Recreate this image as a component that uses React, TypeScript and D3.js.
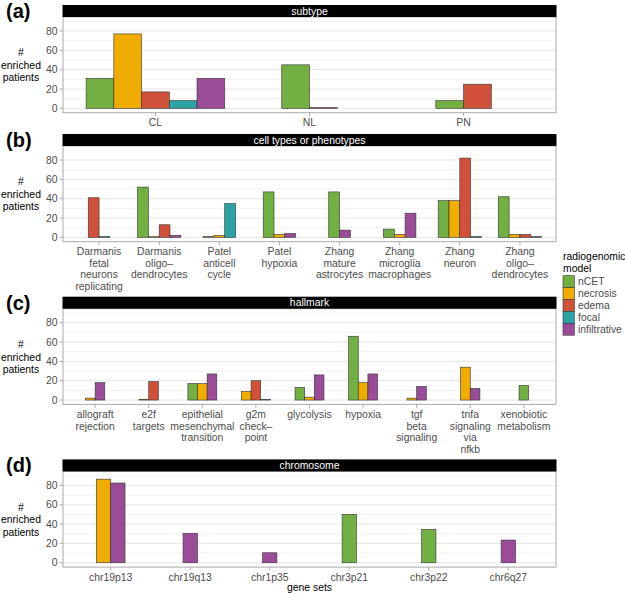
import React from "react";
import * as d3 from "d3";

const models = ["nCET", "necrosis", "edema", "focal", "infiltrative"];
const modelColors = ["#72B043", "#F0AD00", "#D1503A", "#2BA3A5", "#9A4C98"];

const subtypeCats = ["CL", "NL", "PN"];
const subtypeNCET = [31, 45, 8];
const subtypeNecrosis = [77, null, null];
const subtypeEdema = [17, 0.8, 25];
const subtypeFocal = [8, null, null];
const subtypeInfiltrative = [31, null, null];

const cellCats = [
  "Darmanis\nfetal\nneurons\nreplicating",
  "Darmanis\noligo–\ndendrocytes",
  "Patel\nanticell\ncycle",
  "Patel\nhypoxia",
  "Zhang\nmature\nastrocytes",
  "Zhang\nmicroglia\nmacrophages",
  "Zhang\nneuron",
  "Zhang\noligo–\ndendrocytes",
];
const cellNCET = [null, 52, 0.8, 47, 47, 8.5, 38, 42];
const cellNecrosis = [null, 0.8, 2, 3, null, 3, 38, 3];
const cellEdema = [41, 13, null, null, null, null, 82, 3];
const cellFocal = [0.8, null, 35, null, null, null, 0.8, null];
const cellInfiltrative = [null, 2, null, 4, 7.5, 25, null, 0.8];

const hallmarkCats = [
  "allograft\nrejection",
  "e2f\ntargets",
  "epithelial\nmesenchymal\ntransition",
  "g2m\ncheck–\npoint",
  "glycolysis",
  "hypoxia",
  "tgf\nbeta\nsignaling",
  "tnfa\nsignaling\nvia\nnfkb",
  "xenobiotic\nmetabolism",
];
const hallmarkNCET = [null, null, 17, null, 13, 66, null, null, 15];
const hallmarkNecrosis = [2, 0.8, 17, 9, 3, 18, 2, 34, null];
const hallmarkEdema = [null, 19, null, 20, null, null, null, null, null];
const hallmarkFocal = [null, null, null, 0.8, null, null, null, null, null];
const hallmarkInfiltrative = [18, null, 27, null, 26, 27, 14, 12, null];

const chromCats = ["chr19p13", "chr19q13", "chr1p35", "chr3p21", "chr3p22", "chr6q27"];
const chromNCET = [null, null, null, 50, 34.5, null];
const chromNecrosis = [86.5, null, null, null, null, null];
const chromEdema = [null, null, null, null, null, null];
const chromFocal = [null, null, null, null, null, null];
const chromInfiltrative = [82.5, 30.5, 10.3, null, null, 23.5];

const yTicks = [0, 20, 40, 60, 80];
const yMinor = [10, 30, 50, 70, 90];

const panels = [
  { label: "(a)", title: "subtype", cats: subtypeCats, series: [subtypeNCET, subtypeNecrosis, subtypeEdema, subtypeFocal, subtypeInfiltrative], zero: 108.3 },
  { label: "(b)", title: "cell types or phenotypes", cats: cellCats, series: [cellNCET, cellNecrosis, cellEdema, cellFocal, cellInfiltrative], zero: 237.3 },
  { label: "(c)", title: "hallmark", cats: hallmarkCats, series: [hallmarkNCET, hallmarkNecrosis, hallmarkEdema, hallmarkFocal, hallmarkInfiltrative], zero: 400 },
  { label: "(d)", title: "chromosome", cats: chromCats, series: [chromNCET, chromNecrosis, chromEdema, chromFocal, chromInfiltrative], zero: 562.7 },
];

const FONT = "'Liberation Sans', Arial, Helvetica, sans-serif";
const left = 63;
const right = 556;
const fs = 10.4;

function Panel({ p }: { p: any }) {
  const top = p.zero - 91.3;
  const bottom = p.zero + 4.4;
  const stripTop = top - 12;
  const y = d3.scaleLinear().domain([-4.5, 94.5]).range([bottom, top]);
  const x = d3.scalePoint<string>().domain(p.cats).range([left, right]).padding(0.6);
  const bw = (0.9 * x.step()) / 5;
  const bars: any[] = [];
  p.cats.forEach((c: string, ci: number) => {
    const present = models
      .map((m, mi) => ({ m, mi, v: p.series[mi][ci] }))
      .filter((d) => d.v !== null && d.v !== undefined);
    const n = present.length;
    const cx = x(c) as number;
    present.forEach((d, i) => {
      bars.push({ key: c + d.m, x0: cx - (n * bw) / 2 + i * bw, v: d.v, color: modelColors[d.mi] });
    });
  });
  const mid = (top + bottom) / 2;
  return (
    <g>
      <text x={6} y={stripTop + 13} fontSize={20} fontWeight="bold" fontFamily={FONT} fill="#000">{p.label}</text>
      {yMinor.map((t) => (
        <line key={"mi" + t} x1={left} x2={right} y1={y(t)} y2={y(t)} stroke="#ebebeb" strokeWidth={0.7} />
      ))}
      {yTicks.map((t) => (
        <line key={"ma" + t} x1={left} x2={right} y1={y(t)} y2={y(t)} stroke="#e2e2e2" strokeWidth={0.9} />
      ))}
      {bars.map((b) => (
        <rect key={b.key} x={b.x0} width={bw} y={y(b.v)} height={y(0) - y(b.v)} fill={b.color} stroke="#333" strokeWidth={0.6} />
      ))}
      <rect x={left} y={top} width={right - left} height={bottom - top} fill="none" stroke="#aaaaaa" strokeWidth={1} />
      <rect x={left - 0.5} y={stripTop} width={right - left + 1} height={12} fill="#000" />
      <text x={(left + right) / 2} y={stripTop + 9.5} fontSize={fs} fontFamily={FONT} fill="#fff" textAnchor="middle">{p.title}</text>
      {yTicks.map((t) => (
        <g key={"yt" + t}>
          <line x1={59.5} x2={left} y1={y(t)} y2={y(t)} stroke="#999" strokeWidth={0.8} />
          <text x={57.5} y={y(t) + 3.7} fontSize={fs} fontFamily={FONT} fill="#4d4d4d" textAnchor="end">{t}</text>
        </g>
      ))}
      {p.cats.map((c: string) => {
        const cx = x(c) as number;
        return (
          <g key={"xt" + c}>
            <line x1={cx} x2={cx} y1={bottom} y2={bottom + 3.5} stroke="#999" strokeWidth={0.8} />
            <text fontSize={fs} fontFamily={FONT} fill="#4d4d4d" textAnchor="middle">
              {c.split("\n").map((ln, i) => (
                <tspan key={i} x={cx} y={bottom + 13.5 + i * 11.6}>{ln}</tspan>
              ))}
            </text>
          </g>
        );
      })}
      <text fontSize={fs} fontFamily={FONT} fill="#000" textAnchor="middle">
        {["#", "enriched", "patients"].map((ln, i) => (
          <tspan key={i} x={21} y={mid + 4 + (i - 1) * 12.5}>{ln}</tspan>
        ))}
      </text>
    </g>
  );
}

export default function App() {
  return (
    <svg width={625} height={593} style={{ position: "absolute", left: 0, top: 0, background: "#fff" }}>
      <rect x={0} y={0} width={625} height={593} fill="#fff" />
      {panels.map((p) => (
        <Panel key={p.label} p={p} />
      ))}
      <text x={309.5} y={590.5} fontSize={fs} fontFamily={FONT} fill="#000" textAnchor="middle">gene sets</text>
      <text fontSize={fs} fontFamily={FONT} fill="#000">
        <tspan x={563} y={260}>radiogenomic</tspan>
        <tspan x={563} y={272}>model</tspan>
      </text>
      {models.map((m, i) => (
        <g key={m}>
          <rect x={563} y={275.7 + i * 11.9} width={11.3} height={11.9} fill={modelColors[i]} stroke="#333" strokeWidth={0.6} />
          <text x={578} y={275.7 + i * 11.9 + 9.7} fontSize={fs} fontFamily={FONT} fill="#4d4d4d">{m}</text>
        </g>
      ))}
    </svg>
  );
}
